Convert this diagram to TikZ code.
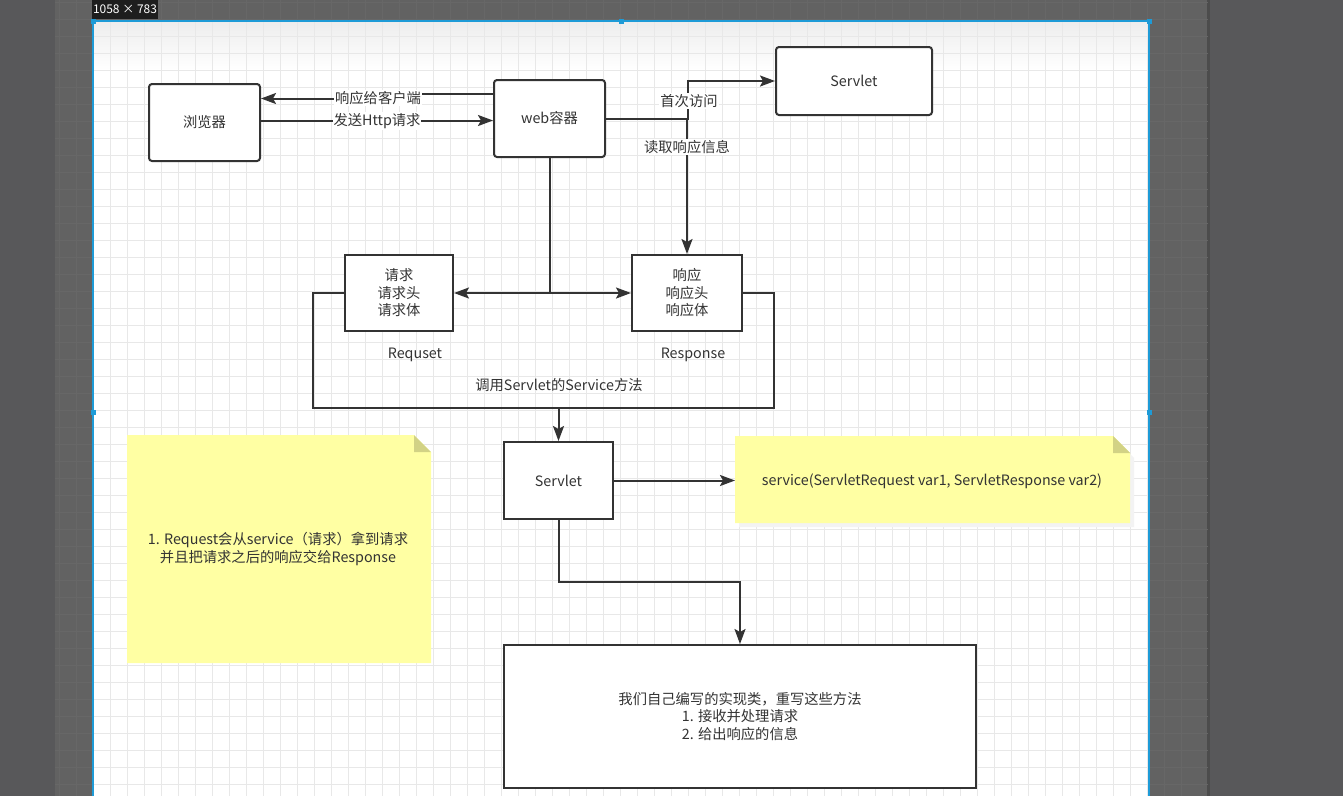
\documentclass[tikz,border=0pt]{standalone}
\usepackage{fontspec}
\setmainfont{Noto Sans CJK SC}
\usetikzlibrary{arrows.meta}
\definecolor{ink}{HTML}{333333}
\definecolor{gridc}{HTML}{E8E8E8}
\definecolor{notey}{HTML}{FFFFA3}
\definecolor{foldy}{HTML}{D2D285}
\definecolor{selblue}{HTML}{1E9BD7}
\definecolor{bgdark}{HTML}{58585A}
\definecolor{bgmid}{HTML}{626262}
\definecolor{bgedge}{HTML}{4C4C4C}
\definecolor{bggrid}{HTML}{676767}
\definecolor{topgray}{HTML}{EDEDED}
\definecolor{shadowc}{HTML}{F3F3F3}
\definecolor{dimbg}{HTML}{1E1E1E}
\tikzset{
  txt/.style={text=ink, font=\fontsize{14.3}{17.5}\selectfont},
  box/.style={txt, draw=ink, line width=2pt, fill=white, rounded corners=3pt, align=center},
  sqbox/.style={txt, draw=ink, line width=2pt, fill=white, align=center},
  conn/.style={draw=ink, line width=2pt},
  arr/.style={conn, -{Stealth[length=15pt,width=11pt,inset=3pt]}},
  lbl/.style={txt, fill=white, inner sep=1pt},
  plain/.style={txt, align=center},
  handle/.style={fill=selblue, minimum size=5pt, inner sep=0pt},
}
\begin{document}
\begin{tikzpicture}[x=1pt,y=-1pt]
\useasboundingbox (0,0) rectangle (1343,796);
% background
\fill[bgdark] (0,0) rectangle (1343,796);
\fill[bgmid] (55,0) rectangle (1208,796);
\fill[bgedge] (1207,0) rectangle (1210,796);
\foreach \i in {0,...,66} {\draw[bggrid, line width=0.6pt] (59.7+17*\i,0) -- (59.7+17*\i,796);}
\foreach \j in {0,...,47} {\draw[bggrid, line width=0.6pt] (55,2.7+17*\j) -- (1208,2.7+17*\j);}
% canvas
\fill[white] (93,21) rectangle (1149,796);
\shade[top color=topgray, bottom color=white] (93,21) rectangle (1149,70);
\foreach \i in {0,...,62} {\draw[gridc, line width=0.8pt] (93.7+17*\i,21) -- (93.7+17*\i,796);}
\foreach \j in {1,...,46} {\draw[gridc, line width=0.8pt] (93,19.7+17*\j) -- (1149,19.7+17*\j);}
\draw[selblue, line width=1.2pt] (93,796) -- (93,21) -- (1149,21) -- (1149,796);
\node[handle] (h1) at (93,21) {};
\node[handle] (h2) at (621,21) {};
\node[handle] (h3) at (1149,21) {};
\node[handle] (h4) at (93,412) {};
\node[handle] (h5) at (1149,412) {};
\node[fill=dimbg, text=white, inner sep=0pt, minimum width=66pt, minimum height=20pt, font=\fontsize{12}{14}\selectfont] (dim) at (125,9) {1058 × 783};

% notes
\fill[shadowc] (739,440) -- (1116,440) -- (1134,458) -- (1134,527) -- (739,527) -- cycle;
\fill[notey] (735,436) -- (1113,436) -- (1130,453) -- (1130,523) -- (735,523) -- cycle;
\fill[foldy] (1113,436) -- (1113,453) -- (1130,453) -- cycle;
\node[plain] (n2) at (932,481) {service(ServletRequest var1, ServletResponse var2)};

\fill[notey] (127,435) -- (414,435) -- (431,452) -- (431,663) -- (127,663) -- cycle;
\fill[foldy] (414,435) -- (414,452) -- (431,452) -- cycle;
\node[plain] (n1) at (278,549) {1. Request会从service（请求）拿到请求\\并且把请求之后的响应交给Response};

% nodes
\node[box, minimum width=111pt, minimum height=77pt] (browser) at (204.5,122.5) {浏览器};
\node[box, minimum width=111pt, minimum height=77pt] (web) at (549.5,118.5) {web容器};
\node[box, minimum width=156pt, minimum height=68pt] (stop) at (854,81) {Servlet};
\node[sqbox, minimum width=108pt, minimum height=76pt] (req) at (399,293) {请求\\请求头\\请求体};
\node[sqbox, minimum width=110pt, minimum height=76pt] (resp) at (687,293) {响应\\响应头\\响应体};
\node[plain] (reqlbl) at (415,355) {Requset};
\node[plain] (resplbl) at (693,355) {Response};
\node[sqbox, minimum width=109pt, minimum height=77pt] (servlet) at (558.5,480.5) {Servlet};
\node[sqbox, minimum width=472pt, minimum height=143pt] (impl) at (740,716.5) {我们自己编写的实现类，重写这些方法\\1. 接收并处理请求\\2. 给出响应的信息};

% connectors
\coordinate (j1) at (380,94);
\coordinate (j2) at (380,98.5);
\draw[arr] (web.west |- j1) -- (j1) -- (j2) -- (browser.east |- j2);
\node[lbl] (l1) at (378,98) {响应给客户端};
\draw[arr] (browser.east |- 0,120.5) -- (web.west |- 0,120.5);
\node[lbl] (l2) at (377,121) {发送Http请求};

\coordinate (k1) at (688,119);
\draw[arr] (web.east |- k1) -- (k1) |- (stop.west);
\node[lbl] (l3) at (689,101) {首次访问};
\draw[arr] (687,119) -- (resp.north);
\node[lbl] (l4) at (687,147) {读取响应信息};

\coordinate (sp) at (549.5,293);
\draw[conn] (web.south) -- (sp);
\draw[arr] (sp) -- (req.east);
\draw[arr] (sp) -- (resp.west);

\coordinate (uL) at (313,408);
\coordinate (uR) at (774,408);
\coordinate (uM) at (558.5,408);
\draw[conn] (req.west) -| (uL) -- (uR) |- (resp.east);
\draw[arr] (uM) -- (servlet.north);
\node[plain] (l5) at (559,385) {调用Servlet的Service方法};

\draw[arr] (servlet.east) -- (735,480.5);

\coordinate (d1) at (558.5,582);
\draw[arr] (servlet.south) -- (d1) -| (impl.north);
\end{tikzpicture}
\end{document}
